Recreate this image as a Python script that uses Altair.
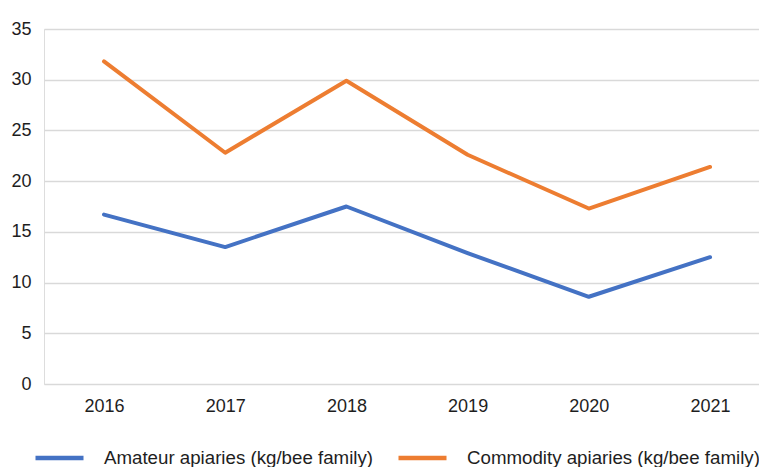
import altair as alt
import pandas as pd

years = [2016, 2017, 2018, 2019, 2020, 2021]
amateur = [16.7, 13.5, 17.5, 12.9, 8.6, 12.5]
commodity = [31.8, 22.8, 29.9, 22.6, 17.3, 21.4]
series_names = ["Amateur apiaries (kg/bee family)", "Commodity apiaries (kg/bee family)"]
series_colors = ["#4472C4", "#ED7D31"]

rows = []
for y, a, c in zip(years, amateur, commodity):
    rows.append({"year": y, "value": a, "series": series_names[0]})
    rows.append({"year": y, "value": c, "series": series_names[1]})
df = pd.DataFrame(rows)

FONT = "Liberation Sans"
TXT = "#1e1e1e"

chart = alt.Chart(df).mark_line(strokeWidth=4, strokeCap="round", strokeJoin="round").encode(
    x=alt.X("year:Q",
            scale=alt.Scale(domain=[2015.505, 2021.404], nice=False, zero=False),
            axis=alt.Axis(title=None, values=years, format="d", labelAngle=0, ticks=False,
                          domain=False, grid=False, labelFlush=False, labelOverlap=False,
                          labelPadding=13, labelFontSize=18, labelColor=TXT, labelFont=FONT)),
    y=alt.Y("value:Q", scale=alt.Scale(domain=[0, 35], nice=False),
            axis=alt.Axis(title=None, values=[0, 5, 10, 15, 20, 25, 30, 35], ticks=False, domain=False,
                          gridColor="#d9d9d9", gridWidth=1.5, labelPadding=13,
                          labelFontSize=18, labelColor=TXT, labelFont=FONT)),
    color=alt.Color("series:N", scale=alt.Scale(domain=series_names, range=series_colors),
                    legend=alt.Legend(title=None, orient="none", legendX=-11, legendY=402,
                                      direction="horizontal", symbolType="stroke",
                                      symbolSize=2304, symbolStrokeWidth=4.5,
                                      labelFontSize=18.7, labelColor=TXT, labelFont=FONT,
                                      labelOffset=18, columnPadding=16, labelLimit=400)),
).properties(
    width=715, height=355,
    autosize=alt.AutoSizeParams(type="none"),
    padding={"left": 44, "top": 29, "right": 0, "bottom": 83},
).configure_view(strokeWidth=0).configure(background="white")

chart.save("out.html", embed_options={"renderer": "svg", "actions": False})
